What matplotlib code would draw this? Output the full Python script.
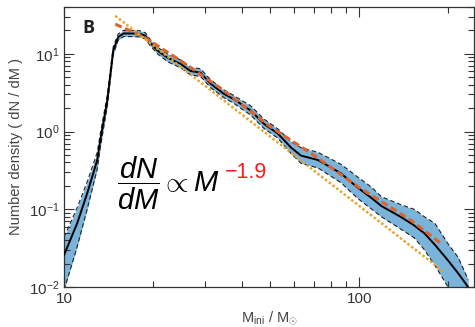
import matplotlib
matplotlib.use("Agg")
import matplotlib.pyplot as plt
from matplotlib.ticker import FixedLocator, FixedFormatter, LogLocator, NullFormatter

plt.rcParams['font.family'] = ['Liberation Sans', 'DejaVu Sans']
plt.rcParams['mathtext.fontset'] = 'custom'
plt.rcParams['mathtext.rm'] = 'Liberation Sans'
plt.rcParams['mathtext.it'] = 'Liberation Sans:italic'
plt.rcParams['mathtext.bf'] = 'Liberation Sans:bold'

# ---- data ----
mass = [10, 11.07, 11.97, 12.95, 13.25, 14.0, 14.67, 15.25, 15.9, 17.2, 18.1, 18.85,
        19.6, 20.7, 22.4, 24.8, 26.8, 29, 31.4, 34.7, 37.6, 42.9, 47.5, 53, 58.8,
        63.5, 72.5, 86.7, 98.8, 110, 119, 139, 153.6, 166.5, 180.5, 200, 216.6, 234]
density = [0.026, 0.066, 0.16, 0.43, 0.77, 2.5, 11, 16.4, 18.2, 18.2, 18, 17,
           13.8, 11, 8.9, 7.4, 6.0, 5.7, 4.1, 3.07, 2.6, 1.86, 1.26, 0.94, 0.62,
           0.49, 0.43, 0.29, 0.19, 0.14, 0.11, 0.079, 0.062, 0.049, 0.035, 0.022, 0.015, 0.010]
band_hi = [0.044, 0.105, 0.225, 0.54, 0.92, 2.9, 12.3, 18.0, 19.9, 19.9, 19.7, 18.6,
           15.1, 12.1, 10.0, 8.3, 6.7, 6.4, 4.6, 3.45, 2.9, 2.14, 1.45, 1.08, 0.74,
           0.62, 0.54, 0.38, 0.26, 0.193, 0.145, 0.114, 0.10, 0.08, 0.066, 0.036, 0.024, 0.0125]
band_lo = [0.0092, 0.033, 0.10, 0.33, 0.61, 2.1, 9.8, 15.0, 16.6, 16.6, 16.4, 15.5,
           12.6, 10.0, 7.9, 6.6, 5.35, 5.1, 3.65, 2.74, 2.3, 1.62, 1.10, 0.82, 0.52,
           0.39, 0.34, 0.22, 0.138, 0.101, 0.080, 0.055, 0.043, 0.030, 0.019, 0.010, 0.0068, 0.0045]

fit_mass = [14.9, 18.6, 25, 35, 50, 70, 100, 150, 190]
fit_density = [24, 16.5, 8.0, 3.3, 1.15, 0.50, 0.19, 0.072, 0.036]

pl_mass = [14.9, 194]
pl_density = [30.7, 0.0156]

x_ticks = [10, 100]
x_ticklabels = ['10', '100']

# ---- figure ----
fig = plt.figure(figsize=(4.75, 3.27), dpi=100)
ax = fig.add_axes([0.135, 0.122, 0.863, 0.857])
ax.set_xscale('log')
ax.set_yscale('log')

ax.fill_between(mass, band_lo, band_hi, color='#7ab4da', lw=0, zorder=1)
ax.plot(mass, band_hi, color='#222222', lw=0.8, ls=(0, (4, 2.5)), zorder=2)
ax.plot(mass, band_lo, color='#222222', lw=0.8, ls=(0, (4, 2.5)), zorder=2)
ax.plot(mass, density, color='black', lw=1.4, zorder=3)
ax.plot(fit_mass, fit_density, color='#dc6430', lw=2.2, ls=(0, (2.3, 1.2)), zorder=4)
ax.plot(pl_mass, pl_density, color='#e8a42c', lw=1.8, ls=(0, (1, 0.9)), zorder=5)

ax.set_xlim(10, 245)
ax.set_ylim(0.01, 40)

ax.xaxis.set_major_locator(FixedLocator(x_ticks))
ax.xaxis.set_major_formatter(FixedFormatter(x_ticklabels))
ax.xaxis.set_minor_locator(LogLocator(base=10, subs=range(2, 10), numticks=20))
ax.xaxis.set_minor_formatter(NullFormatter())
ax.yaxis.set_minor_formatter(NullFormatter())

ax.tick_params(which='both', direction='in', top=True, right=True, colors='#333333',
               labelcolor='#333333', labelsize=11, width=0.8)
ax.tick_params(which='major', length=7)
ax.tick_params(which='minor', length=4)
for s in ax.spines.values():
    s.set_color('#333333')
    s.set_linewidth(0.9)

ax.set_ylabel('Number density ( dN / dM )', fontsize=10.5, color='#444444', labelpad=4)
ax.set_xlabel(r'M$_{\mathregular{ini}}$ / M$_{\odot}$', fontsize=10.5, color='#444444', labelpad=3)

fig.text(0.173, 0.899, 'B', fontsize=13, fontweight='bold', family=['Open Sans', 'DejaVu Sans'],
         color='#222222')
fig.text(0.246, 0.41, r'$\dfrac{dN}{dM}\propto M$', fontsize=21, color='black', ha='left',
         va='baseline')
fig.text(0.474, 0.456, '\u22121.9', fontsize=15.5, color='#ff1a1a', ha='left', va='baseline')

fig.savefig('out.png', dpi=100)
